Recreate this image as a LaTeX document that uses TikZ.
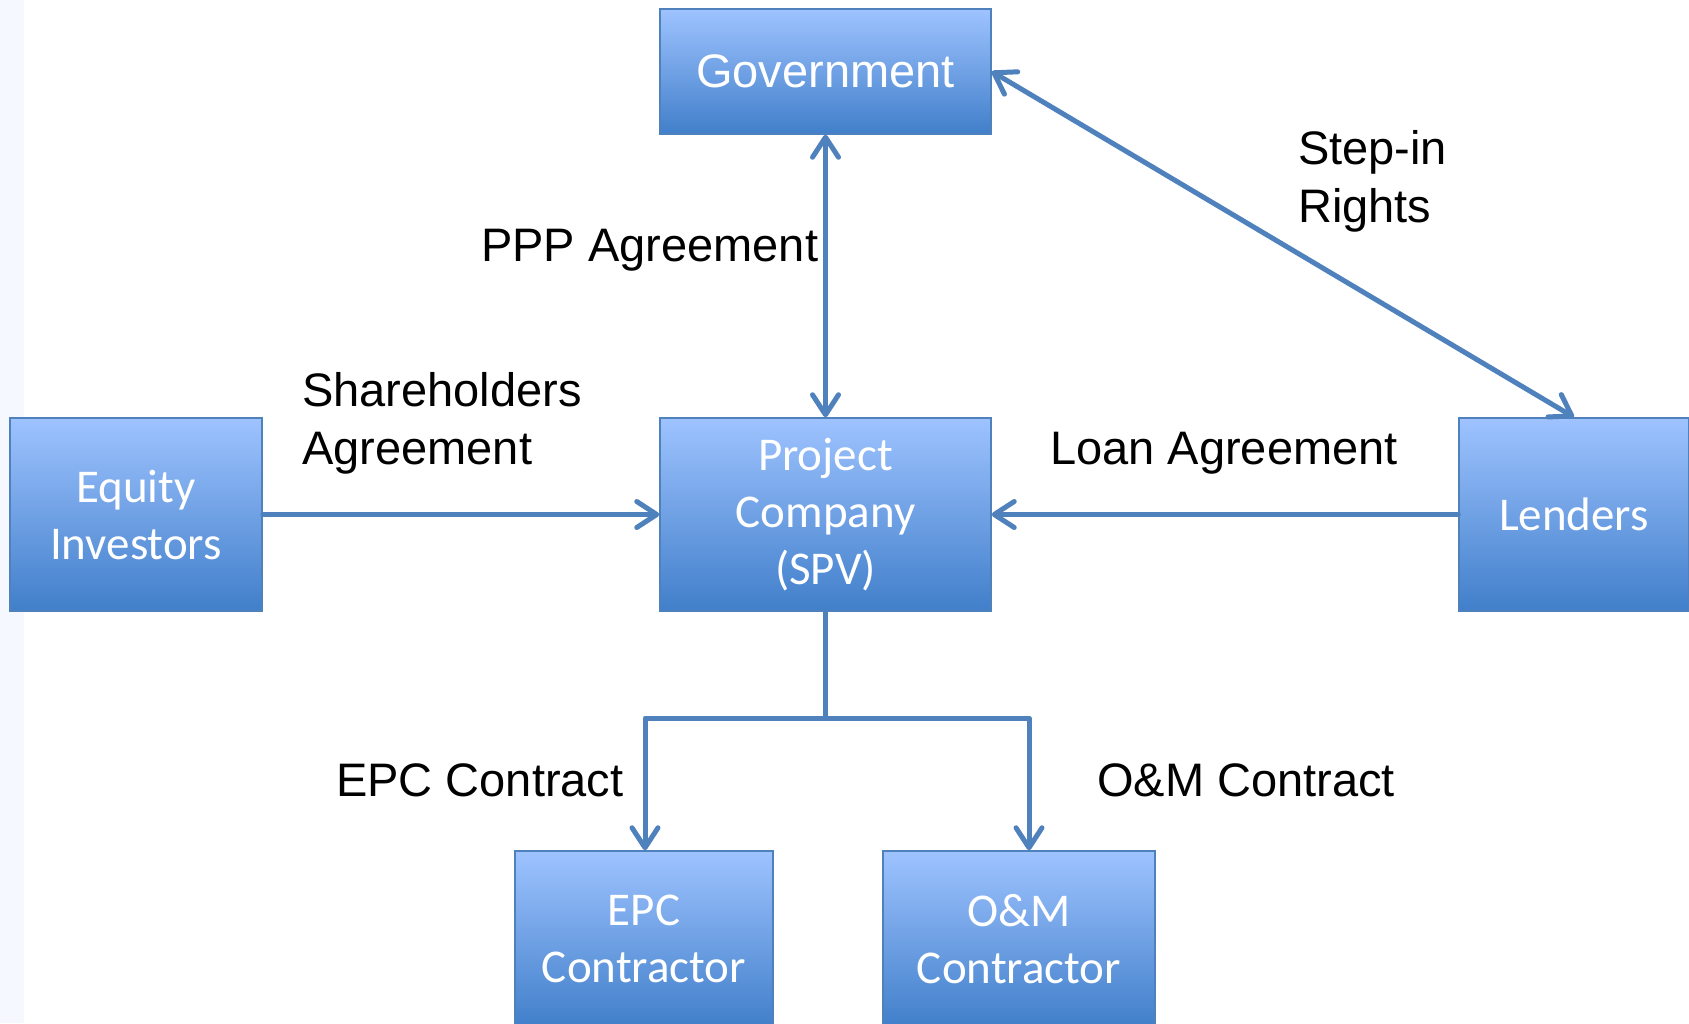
\documentclass[tikz,border=0pt]{standalone}
\usepackage{fontspec}
\setmainfont{Liberation Sans}
\newfontfamily\calfont{Carlito}
\usetikzlibrary{arrows.meta}
\definecolor{lnc}{RGB}{79,129,189}
\definecolor{boxtop}{RGB}{158,195,255}
\definecolor{boxbot}{RGB}{65,127,202}
\definecolor{boxedge}{RGB}{79,129,189}
\definecolor{stripc}{RGB}{245,248,255}
\tikzset{
  box/.style={draw=boxedge, line width=1.5pt, top color=boxtop, bottom color=boxbot,
    text=white, align=center, inner sep=0pt, font=\calfont\fontsize{47}{57}\selectfont},
  govbox/.style={box, font=\normalfont\fontsize{47}{57}\selectfont},
  conn/.style={draw=lnc, line width=5pt, line cap=round, line join=round,
    >={Straight Barb[length=20pt,width=26pt,round]}},
  lab/.style={inner sep=0pt, anchor=west, align=left, font=\fontsize{47}{58}\selectfont}
}
\begin{document}
\begin{tikzpicture}[x=1pt,y=-1pt]
\useasboundingbox (0,0) rectangle (1689,1023);
\clip (0,0) rectangle (1689,1023);
\fill[white] (0,0) rectangle (1689,1023);
\fill[stripc] (0,0) rectangle (24,1023);

\node[govbox, minimum width=331pt, minimum height=125pt] (gov) at (825.5,71.5) {Government};
\node[box, minimum width=331pt, minimum height=193pt] (spv) at (825.5,514.5) {Project\\Company\\(SPV)};
\node[box, minimum width=252pt, minimum height=193pt] (eq) at (136,514.5) {Equity\\Investors};
\node[box, minimum width=230pt, minimum height=193pt] (len) at (1574,514.5) {Lenders};
\node[box, minimum width=258pt, minimum height=176pt] (epc) at (644,939) {EPC\\Contractor};
\node[box, minimum width=272pt, minimum height=176pt] (om) at (1019,939) {O\&M\\Contractor};

\node[lab] (ppp) at (481,250) {PPP Agreement};
\node[lab] (step) at (1298,181.5) {Step-in\\Rights};
\node[lab] (sha) at (302,423) {Shareholders\\Agreement};
\node[lab] (loan) at (1050,453.5) {Loan Agreement};
\node[lab] (epcl) at (336,780) {EPC Contract};
\node[lab] (oml) at (1097,780) {O\&M Contract};

\draw[conn,<->] (gov) -- (spv);
\draw[conn,->] (eq) -- (spv);
\draw[conn,->] (len) -- (spv);
\draw[conn,<->] (gov.east) -- (len.north);

\coordinate (j) at (825.5,718);
\coordinate (jl) at (645,718);
\coordinate (jr) at (1029,718);
\draw[conn] (spv.south) -- (j);
\draw[conn,<->] (jl |- epc.north) -- (jl) -- (jr) -- (jr |- om.north);
\end{tikzpicture}
\end{document}
